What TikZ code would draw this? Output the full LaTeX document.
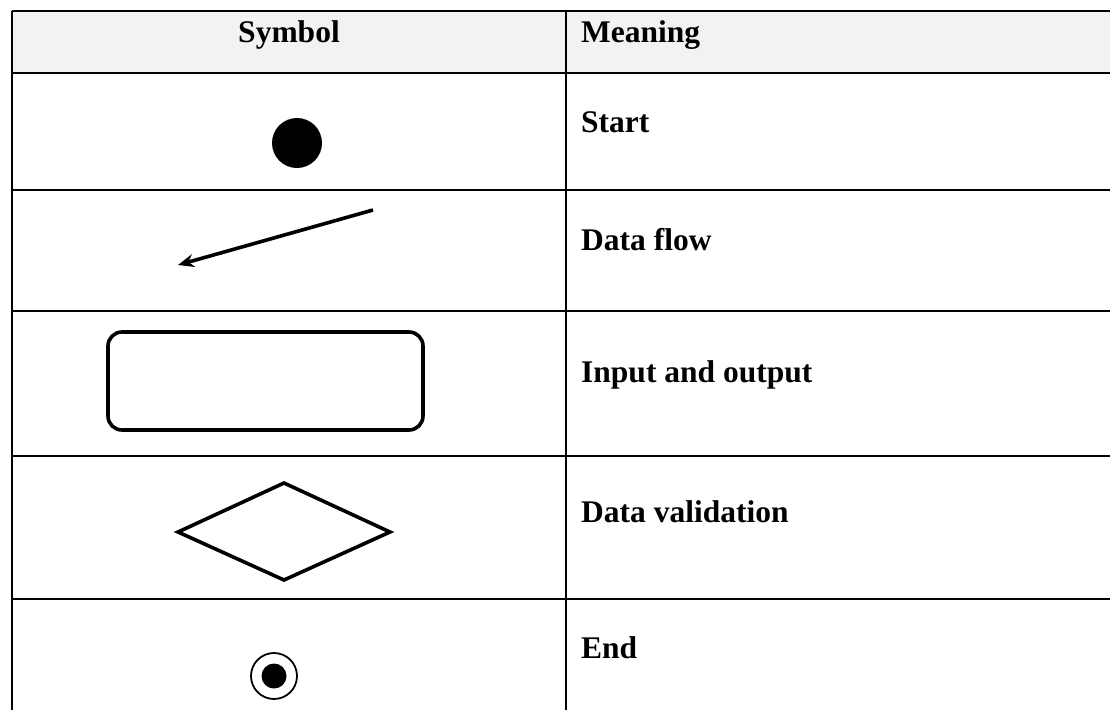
\documentclass[tikz,border=0pt]{standalone}
\usepackage{fontspec}
\setmainfont{Liberation Serif}
\usetikzlibrary{arrows.meta}
\definecolor{headgray}{HTML}{F2F2F2}
\tikzset{
  rule/.style={line width=2.2pt},
  symline/.style={line width=3.6pt},
  celltext/.style={anchor=base west, inner sep=0pt, font=\fontsize{31.5}{36}\selectfont\bfseries},
}
\begin{document}
\begin{tikzpicture}[x=1pt,y=-1pt]
      \useasboundingbox (0,0) rectangle (1110,710);
      \fill[headgray] (12,11) rectangle (1110,73);
      % table rules
      \draw[rule] (12,11) -- (1110,11);
      \foreach \yy in {73,190,311,456,599}
        \draw[rule] (12,\yy) -- (1110,\yy);
      \draw[rule] (12,11) -- (12,710);
      \draw[rule] (566,11) -- (566,710);
      % header
      \node[celltext, anchor=base] (symhead) at (289,42) {Symbol};
      \node[celltext] (meanhead) at (581,42) {Meaning};
      % meanings
      \node[celltext] (start) at (581,132) {Start};
      \node[celltext] (flow) at (581,250) {Data flow};
      \node[celltext] (inout) at (581,382) {Input and output};
      \node[celltext] (valid) at (581,522) {Data validation};
      \node[celltext] (finish) at (581,658) {End};
      % symbols
      \fill (297,143) circle (25);
      \coordinate (flowtail) at (373,210);
      \coordinate (flowhead) at (178,265);
      \draw[symline, -{Stealth[length=16pt,width=13pt]}] (flowtail) -- (flowhead);
      \draw[symline, rounded corners=14pt] (108,332) rectangle (423,430);
      \draw[symline, line join=miter] (178,532) -- (284,483) -- (390,532) -- (284,580) -- cycle;
      \draw[line width=1.8pt] (274,676) circle (23);
      \fill (274,676) circle (12.5);
    \end{tikzpicture}
\end{document}
